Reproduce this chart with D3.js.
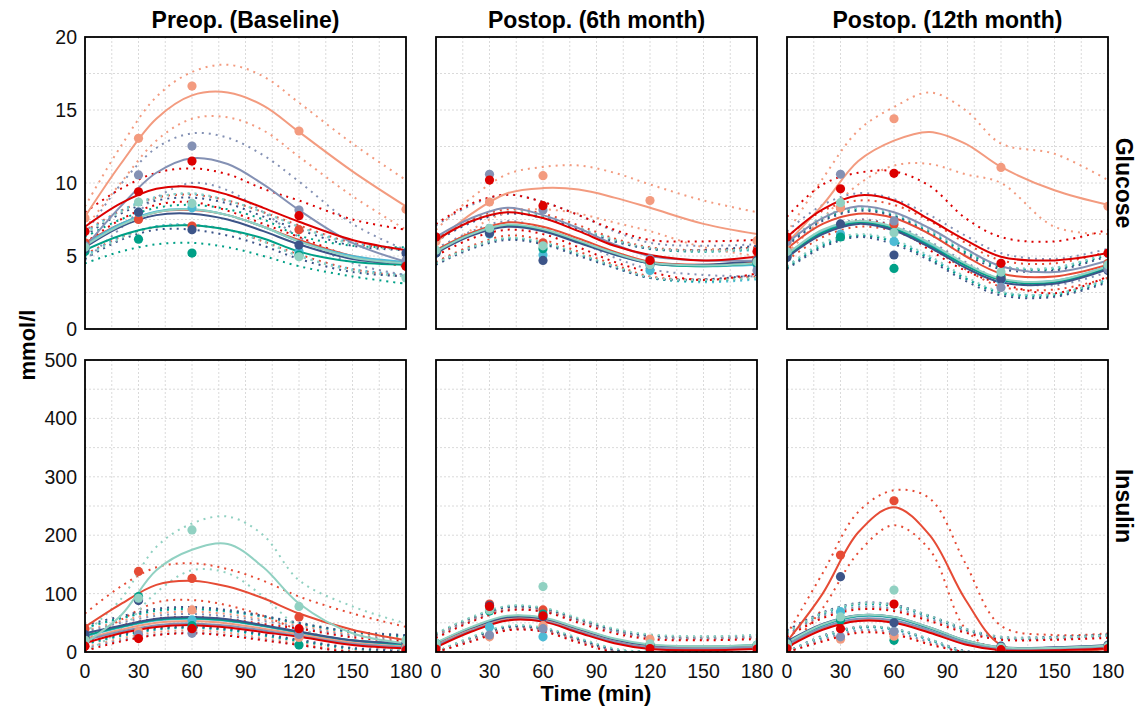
<!DOCTYPE html>
<html><head><meta charset="utf-8">
<script src="https://cdn.jsdelivr.net/npm/d3@7"></script>
<style>body{margin:0;background:#fff} text{font-family:"Liberation Sans",Arial,sans-serif}</style>
</head><body><svg id="c" width="1139" height="713"></svg>
<script>
// ---------- data ----------
const colTitles = ["Preop. (Baseline)", "Postop. (6th month)", "Postop. (12th month)"];
const rowTitles = ["Glucose", "Insulin"];
const xTicks = [0, 30, 60, 90, 120, 150, 180];
const yTicksGlu = [0, 5, 10, 15, 20];
const yTicksIns = [0, 100, 200, 300, 400, 500];
const groups = ["G1", "G2", "G3", "G4", "G5", "G6", "G7", "G8"];
const colors = ["#E64B35", "#4DBBD5", "#00A087", "#3C5488", "#F39B7F", "#8491B4", "#91D1C2", "#DC0000"];
const fitTimes = [0, 20, 40, 60, 80, 100, 120, 150, 180];
const obsTimes = [0, 30, 60, 120, 180];

// Glucose, baseline
const glu0Fit = [[5.9,7.2,8.0,8.15,7.8,7.0,6.1,5.0,4.5],[5.8,7.2,8.05,8.2,7.8,7.0,6.0,5.0,4.6],[5.4,6.4,7.0,7.1,6.8,6.2,5.3,4.6,4.4],[5.6,7.0,7.8,7.9,7.5,6.7,5.8,4.8,4.5],[7.7,11.3,14.4,16.0,16.2,15.3,13.5,10.8,8.4],[5.6,8.4,10.7,11.7,11.3,9.9,8.15,5.9,4.6],[5.7,7.1,8.0,8.2,7.8,7.0,6.0,4.9,4.5],[7.0,8.6,9.6,9.75,9.2,8.3,7.35,6.1,5.4]];
const glu0Hi = [[6.7,8.1,9.0,9.2,8.8,8.0,7.1,5.9,5.4],[6.6,8.1,9.05,9.25,8.8,8.0,7.0,5.9,5.5],[6.3,7.5,8.3,8.5,8.2,7.5,6.4,5.7,5.6],[6.4,7.9,8.8,9.0,8.6,7.7,6.8,5.7,5.4],[8.4,12.5,15.9,17.6,18.1,17.3,15.5,12.7,10.2],[6.5,9.9,12.4,13.4,13.1,11.9,10.1,7.2,5.4],[6.5,8.0,9.0,9.3,8.8,8.0,7.0,5.8,5.4],[8.0,9.6,10.7,11.0,10.6,9.6,8.8,7.5,6.8]];
const glu0Lo = [[5.1,6.3,7.0,7.1,6.8,6.0,5.1,4.1,3.6],[5.0,6.3,7.05,7.15,6.8,6.0,5.0,4.1,3.7],[4.5,5.3,5.8,5.9,5.6,5.0,4.3,3.6,3.1],[4.8,6.1,6.8,6.8,6.4,5.7,4.8,3.9,3.6],[6.9,10.0,12.9,14.4,14.5,13.6,11.8,9.1,6.8],[4.7,6.9,9.0,10.0,9.5,8.0,6.3,4.5,3.7],[4.9,6.2,7.0,7.1,6.8,6.0,5.0,4.0,3.6],[5.9,7.5,8.5,8.7,8.1,7.2,6.3,4.95,4.3]];
const glu0Obs = [[5.9,7.5,7.05,6.8,4.3],[5.6,8.0,8.3,5.3,4.6],[5.3,6.15,5.2,5.07,4.4],[5.5,8.0,6.8,5.75,5.2],[7.6,13.06,16.64,13.56,8.2],[5.7,10.55,12.53,8.15,4.7],[5.6,8.7,8.6,4.95,3.5],[6.67,9.4,11.5,7.76,4.3]];

// Glucose, 6th month
const glu6Fit = [[5.4,6.6,7.3,7.0,6.2,5.3,4.6,4.4,4.6],[5.3,6.5,7.1,6.8,6.0,5.1,4.5,4.3,4.4],[5.3,6.5,7.1,6.8,6.0,5.2,4.5,4.3,4.5],[5.2,6.4,7.0,6.7,5.9,5.1,4.5,4.4,4.7],[5.9,7.9,9.3,9.65,9.55,9.0,8.3,7.2,6.5],[6.3,7.6,8.3,7.8,6.9,5.8,5.0,4.7,4.7],[5.3,6.5,7.15,6.85,6.05,5.2,4.55,4.35,4.5],[6.1,7.4,8.0,7.6,6.7,5.7,5.07,4.7,4.95]];
const glu6Hi = [[6.2,7.5,8.2,7.9,7.1,6.2,5.6,5.4,5.6],[6.1,7.4,8.0,7.7,6.9,6.0,5.5,5.3,5.4],[6.1,7.4,8.0,7.7,6.9,6.1,5.5,5.3,5.5],[6.0,7.3,7.9,7.6,6.8,6.0,5.5,5.4,5.7],[6.8,9.0,10.6,11.1,11.2,10.7,9.9,8.8,8.0],[7.1,8.5,9.2,8.7,7.8,6.7,5.9,5.7,5.8],[6.1,7.4,8.05,7.75,6.95,6.1,5.55,5.35,5.5],[7.2,8.6,9.2,8.7,7.8,6.8,6.1,6.0,6.1]];
const glu6Lo = [[4.6,5.7,6.4,6.1,5.3,4.4,3.6,3.4,3.6],[4.5,5.6,6.2,5.9,5.1,4.2,3.5,3.2,3.4],[4.5,5.6,6.2,5.9,5.1,4.3,3.5,3.3,3.5],[4.4,5.5,6.1,5.8,5.0,4.2,3.5,3.4,3.7],[5.0,6.8,8.0,8.2,7.9,7.3,6.7,5.6,5.0],[5.5,6.7,7.4,6.9,6.0,4.9,4.1,3.7,3.6],[4.5,5.6,6.25,5.95,5.15,4.3,3.55,3.35,3.5],[5.0,6.2,6.8,6.5,5.6,4.6,3.9,3.35,3.8]];
const glu6Obs = [[5.3,6.6,5.9,4.6,4.8],[5.2,6.5,5.07,4.0,4.4],[5.3,6.8,5.5,4.5,4.5],[5.2,6.55,4.7,4.4,4.7],[6.0,8.7,10.5,8.8,6.05],[6.3,10.6,8.15,4.8,4.0],[5.4,6.9,5.7,4.4,4.6],[6.3,10.2,8.45,4.7,5.3]];

// Glucose, 12th month
const glu12Fit = [[5.5,7.2,7.9,7.6,6.5,5.0,3.8,3.6,4.4],[5.1,6.7,7.35,6.9,5.8,4.4,3.4,3.3,4.3],[5.0,6.6,7.3,6.85,5.7,4.35,3.35,3.2,4.2],[4.9,6.5,7.2,6.75,5.6,4.2,3.2,3.1,4.1],[5.9,8.5,11.5,12.9,13.5,12.7,11.1,9.5,8.5],[5.9,7.6,8.4,8.0,6.9,5.5,4.3,3.9,4.7],[5.1,6.8,7.4,7.0,5.9,4.5,3.45,3.3,4.3],[6.3,8.2,9.15,8.8,7.5,6.1,4.95,4.7,5.2]];
const glu12Hi = [[6.3,8.1,8.8,8.5,7.4,5.9,4.7,4.5,5.3],[5.9,7.6,8.3,7.8,6.7,5.3,4.3,4.2,5.2],[5.8,7.5,8.2,7.75,6.6,5.25,4.25,4.1,5.1],[5.7,7.4,8.1,7.7,6.5,5.1,4.1,4.0,5.0],[6.6,10.3,13.6,15.2,16.2,15.0,12.7,12.0,10.2],[6.7,8.5,9.3,8.9,7.8,6.4,5.2,4.8,5.5],[5.9,7.7,8.3,7.9,6.8,5.4,4.35,4.2,5.2],[7.7,9.9,10.7,10.8,9.8,7.6,6.3,6.0,6.8]];
const glu12Lo = [[4.7,6.3,7.0,6.7,5.6,4.1,2.9,2.7,3.5],[4.3,5.8,6.4,6.0,4.9,3.5,2.5,2.4,3.4],[4.2,5.7,6.4,5.95,4.8,3.45,2.45,2.3,3.3],[4.1,5.6,6.3,5.8,4.7,3.3,2.3,2.2,3.2],[5.2,7.6,9.9,11.2,11.3,10.6,10.0,7.0,6.5],[5.1,6.7,7.5,7.1,6.0,4.6,3.4,3.0,3.9],[4.3,5.9,6.5,6.1,5.0,3.6,2.55,2.4,3.4],[5.0,6.6,7.4,7.0,5.4,4.0,3.1,2.45,3.6]];
const glu12Obs = [[5.5,8.3,7.2,3.5,4.5],[5.2,6.5,6.0,3.3,4.3],[5.0,6.3,4.15,3.6,4.2],[4.9,7.2,5.07,3.4,4.0],[5.9,8.3,14.4,11.07,8.4],[6.0,10.6,7.4,2.85,4.1],[5.3,8.65,6.6,3.9,4.4],[6.3,9.6,10.66,4.5,5.2]];

// Insulin, baseline
const ins0Fit = [[43,82,115,122,112,92,66,38,20],[27,42,54,57,53,44,33,19,12],[28,43,55,58,54,45,34,20,13],[32,45,57,60,56,46,35,20,15],[22,38,50,53,49,40,30,16,9],[20,35,46,49,45,37,27,14,8],[15,62,140,175,185,145,83,32,15],[15,32,43,46,42,34,26,12,6]];
const ins0Hi = [[66,112,145,152,142,122,95,66,43],[41,57,70,73,69,60,48,33,26],[42,58,71,74,70,61,49,34,27],[46,61,74,77,72,62,50,35,29],[36,53,66,69,65,56,45,30,23],[34,50,62,65,61,53,42,28,22],[32,90,180,220,232,200,123,78,49],[28,45,57,60,56,48,40,25,18]];
const ins0Lo = [[20,55,85,89,80,62,38,15,0],[13,27,38,41,37,28,18,5,0],[14,28,39,42,38,29,19,6,0],[18,30,41,43,40,31,21,7,2],[8,23,34,37,33,24,15,2,0],[6,20,30,33,29,21,12,0,0],[0,38,102,140,135,95,43,15,3],[2,18,29,32,28,20,12,0,0]];
const ins0Obs = [[40,138,126,60,10],[28,90,55,30,12],[25,95,45,12,10],[30,88,40,35,15],[20,35,72,25,8],[18,30,32,30,5],[20,92,209,78,20],[10,23,40,40,3]];

// Insulin, 6th month
const ins6Fit = [[12,38,57,55,37,19,8,5,7],[14,41,60,57,39,21,11,8,10],[15,42,61,58,40,22,12,9,12],[14,40,59,56,38,20,10,9,11],[12,38,56,54,36,18,8,6,8],[11,37,55,53,35,18,8,6,8],[16,43,62,59,41,23,13,10,12],[8,35,54,52,33,15,5,3,5]];
const ins6Hi = [[28,55,74,72,54,36,25,22,24],[30,58,77,74,56,38,28,25,27],[31,59,78,75,57,39,29,26,29],[30,57,76,73,55,37,27,26,28],[28,55,73,71,53,35,25,23,25],[27,54,72,70,52,35,25,23,25],[32,60,79,76,58,40,30,27,29],[24,52,71,69,50,32,22,20,22]];
const ins6Lo = [[0,21,40,38,20,2,0,0,0],[0,24,43,40,22,4,0,0,0],[0,25,44,41,23,5,0,0,0],[0,23,42,39,21,3,0,0,0],[0,21,39,37,19,1,0,0,0],[0,20,38,36,18,1,0,0,0],[0,26,45,42,24,6,0,0,0],[0,18,37,35,16,0,0,0,0]];
const ins6Obs = [[10,82,72,12,8],[12,43,26,10,10],[15,70,65,12,12],[13,80,60,10,10],[10,26,45,22,8],[10,29,40,8,6],[15,72,112,14,12],[5,78,62,6,5]];

// Insulin, 12th month
const ins12Fit = [[18,100,205,248,200,90,12,0,5],[15,45,61,58,40,18,6,6,10],[16,46,62,59,41,19,7,7,11],[18,48,63,60,42,20,8,8,12],[10,40,55,52,35,15,4,4,8],[12,42,57,54,37,16,5,5,9],[16,47,63,60,42,20,8,7,11],[8,38,53,50,33,13,3,3,6]];
const ins12Hi = [[30,135,240,277,263,152,45,29,32],[33,65,81,78,60,38,24,24,28],[34,66,82,79,61,39,25,25,29],[37,68,84,81,62,40,26,26,30],[28,60,75,72,55,35,22,22,26],[30,62,77,74,57,36,23,23,27],[34,67,83,80,62,40,26,25,29],[26,58,73,70,53,33,21,21,24]];
const ins12Lo = [[2,75,170,217,175,40,0,0,0],[0,25,41,38,20,0,0,0,0],[0,26,42,39,21,0,0,0,0],[0,28,43,40,22,2,0,0,0],[0,20,35,32,15,0,0,0,0],[0,22,37,34,17,0,0,0,0],[0,27,43,40,22,1,0,0,0],[0,18,33,30,13,0,0,0,0]];
const ins12Obs = [[15,166,259,5,5],[12,69,35,8,10],[15,55,20,8,10],[18,129,50,10,12],[10,22,27,6,8],[10,26,35,6,8],[14,60,106,8,10],[6,40,82,4,6]];

// ---------- layout ----------
const colLeft = [85, 436, 787], pw = 321;
const rowTop = [37, 360], ph = 292;
const svg = d3.select("#c");

const panels = [
  {r:0,c:0,fit:glu0Fit,hi:glu0Hi,lo:glu0Lo,obs:glu0Obs},
  {r:0,c:1,fit:glu6Fit,hi:glu6Hi,lo:glu6Lo,obs:glu6Obs},
  {r:0,c:2,fit:glu12Fit,hi:glu12Hi,lo:glu12Lo,obs:glu12Obs},
  {r:1,c:0,fit:ins0Fit,hi:ins0Hi,lo:ins0Lo,obs:ins0Obs},
  {r:1,c:1,fit:ins6Fit,hi:ins6Hi,lo:ins6Lo,obs:ins6Obs},
  {r:1,c:2,fit:ins12Fit,hi:ins12Hi,lo:ins12Lo,obs:ins12Obs}
];
const yMax = [20, 500];
const yMinor = [2.5, 50];
const yTicksRow = [yTicksGlu, yTicksIns];

panels.forEach((p, pi) => {
  const x0 = colLeft[p.c], y0 = rowTop[p.r];
  const x = d3.scaleLinear().domain([0, 180]).range([x0, x0 + pw]);
  const y = d3.scaleLinear().domain([0, yMax[p.r]]).range([y0 + ph, y0]);
  const g = svg.append("g");
  g.append("clipPath").attr("id", "clip" + pi).append("rect")
    .attr("x", x0).attr("y", y0).attr("width", pw).attr("height", ph);
  // grid
  const grid = g.append("g").attr("stroke", "#d6d6d6").attr("stroke-width", 0.9).attr("stroke-dasharray", "2,2");
  d3.range(0, 181, 15).forEach(t => grid.append("line").attr("x1", x(t)).attr("x2", x(t)).attr("y1", y0).attr("y2", y0 + ph));
  d3.range(0, yMax[p.r] + 0.001, yMinor[p.r]).forEach(v => grid.append("line").attr("x1", x0).attr("x2", x0 + pw).attr("y1", y(v)).attr("y2", y(v)));
  const plot = g.append("g").attr("clip-path", "url(#clip" + pi + ")");
  const line = d3.line().x((d, i) => x(fitTimes[i])).y(d => y(d)).curve(d3.curveCatmullRom.alpha(0.5));
  // bands
  groups.forEach((gr, k) => {
    [p.hi[k], p.lo[k]].forEach(arr => {
      plot.append("path").attr("d", line(arr)).attr("fill", "none").attr("stroke", colors[k])
        .attr("stroke-width", 2).attr("stroke-dasharray", "2,5");
    });
  });
  // fits
  groups.forEach((gr, k) => {
    plot.append("path").attr("d", line(p.fit[k])).attr("fill", "none").attr("stroke", colors[k]).attr("stroke-width", 2);
  });
  // observed points
  groups.forEach((gr, k) => {
    plot.selectAll(null).data(p.obs[k]).enter().append("circle")
      .attr("cx", (d, i) => x(obsTimes[i])).attr("cy", d => y(d)).attr("r", 4.6).attr("fill", colors[k]);
  });
  // border
  g.append("rect").attr("x", x0).attr("y", y0).attr("width", pw).attr("height", ph)
    .attr("fill", "none").attr("stroke", "#000").attr("stroke-width", 1.8);
  // axes labels
  if (p.c === 0) {
    yTicksRow[p.r].forEach(v => g.append("text").attr("x", x0 - 8).attr("y", y(v)).attr("dy", "0.36em")
      .attr("text-anchor", "end").attr("font-size", 19.5).attr("fill", "#111").text(v));
  }
  if (p.r === 1) {
    xTicks.forEach(t => g.append("text").attr("x", x(t)).attr("y", y0 + ph + 26).attr("text-anchor", "middle")
      .attr("font-size", 19.5).attr("fill", "#111").text(t));
  }
  if (p.r === 0) {
    g.append("text").attr("x", x0 + pw / 2).attr("y", 28).attr("text-anchor", "middle")
      .attr("font-size", 23).attr("font-weight", "bold").text(colTitles[p.c]);
  }
  if (p.c === 2) {
    const cy = y0 + ph / 2;
    g.append("text").attr("transform", `translate(1116,${cy}) rotate(90)`).attr("text-anchor", "middle")
      .attr("font-size", 23).attr("font-weight", "bold").text(rowTitles[p.r]);
  }
});
svg.append("text").attr("transform", "translate(35,345) rotate(-90)").attr("text-anchor", "middle")
  .attr("font-size", 22).attr("font-weight", "bold").text("mmol/l");
svg.append("text").attr("x", 596).attr("y", 701).attr("text-anchor", "middle")
  .attr("font-size", 22).attr("font-weight", "bold").text("Time (min)");
</script></body></html>
